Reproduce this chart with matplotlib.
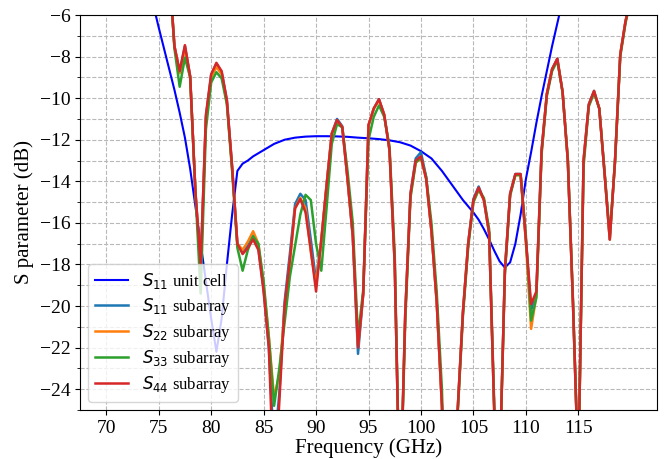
import matplotlib
matplotlib.use("Agg")
import matplotlib.pyplot as plt
from matplotlib.ticker import MultipleLocator

plt.rcParams['font.family'] = ['Liberation Serif', 'DejaVu Serif']
plt.rcParams['mathtext.fontset'] = 'dejavusans'

# unit cell S11
uc_freq = [70, 72, 74, 75, 75.5, 76, 76.5, 77, 77.5, 78, 78.5, 79, 79.5, 80, 80.5,
           81, 81.5, 82, 82.5, 83, 83.5, 84, 85, 86, 87, 88, 89, 90, 91, 92, 93,
           94, 95, 96, 97, 98, 99, 100, 101, 102, 103, 104, 105, 105.5, 106, 106.5,
           107, 107.5, 108, 108.5, 109, 109.5, 110, 110.5, 111, 111.5, 112, 112.5,
           113, 114, 115, 116, 118, 120]
uc_s11 = [-0.5, -2.0, -4.5, -6.6, -7.6, -8.6, -9.6, -10.7, -11.9, -13.4, -15.2, -17.0, -18.8, -20.6, -22.2,
          -20.6, -18.0, -15.6, -13.5, -13.15, -13.0, -12.8, -12.5, -12.2, -12.0, -11.9, -11.85, -11.83, -11.83, -11.84, -11.86,
          -11.9, -11.93, -11.97, -12.03, -12.12, -12.28, -12.55, -12.9, -13.5, -14.2, -14.9, -15.5, -15.85, -16.3, -16.8,
          -17.35, -17.85, -18.15, -17.9, -17.0, -15.6, -13.9, -12.6, -11.2, -9.9, -8.7, -7.5,
          -6.4, -4.2, -2.5, -1.5, -0.8, -0.5]

# subarray S-parameters (0.5 GHz steps)
sub_freq = [70, 75, 75.5, 76, 76.5, 77, 77.5, 78, 78.5, 79, 79.5,
            80, 80.5, 81, 81.5, 82, 82.5, 83, 83.5, 84, 84.5,
            85, 85.5, 86, 86.5, 87, 87.5, 88, 88.5, 89, 89.5,
            90, 90.5, 91, 91.5, 92, 92.5, 93, 93.5, 94, 94.5,
            95, 95.5, 96, 96.5, 97, 97.5, 98, 98.5, 99, 99.5,
            100, 100.5, 101, 101.5, 102, 102.5, 103, 103.5, 104, 104.5,
            105, 105.5, 106, 106.5, 107, 107.5, 108, 108.5, 109, 109.5,
            110, 110.5, 111, 111.5, 112, 112.5, 113, 113.5, 114, 114.5,
            115, 115.5, 116, 116.5, 117, 117.5, 118, 118.5, 119, 119.5, 120]

s44 = [-1.0, -1.8, -2.6, -3.8, -7.5, -8.7, -7.45, -8.95, -14.5, -18.0, -10.8,
       -8.85, -8.3, -8.7, -10.1, -13.3, -17.0, -17.5, -17.2, -16.8, -17.3,
       -19.3, -22.0, -29.0, -24.6, -20.0, -17.8, -15.3, -14.85, -15.5, -17.3,
       -19.3, -16.8, -14.2, -11.7, -11.05, -11.4, -13.9, -16.6, -22.0, -19.4,
       -11.3, -10.5, -10.05, -10.8, -12.5, -18.0, -30.0, -20.4, -14.6, -13.0,
       -12.8, -13.9, -16.4, -19.8, -24.8, -33.0, -32.0, -25.0, -20.3, -17.0,
       -14.9, -14.3, -14.9, -16.5, -25.3, -28.0, -18.3, -14.6, -13.65, -13.65,
       -16.8, -19.9, -19.3, -12.5, -9.8, -8.6, -8.1, -9.7, -13.0, -20.0,
       -28.0, -13.0, -10.3, -9.65, -10.5, -13.6, -16.8, -13.0, -7.9, -6.3, -5.2]

s33 = [-1.0, -1.8, -2.6, -3.8, -7.6, -9.45, -8.05, -9.0, -14.5, -19.4, -11.5,
       -9.25, -8.75, -9.05, -10.3, -13.5, -17.2, -18.3, -17.3, -16.65, -17.0,
       -18.8, -21.5, -24.8, -23.0, -20.8, -18.6, -17.1, -15.6, -14.65, -14.9,
       -17.0, -18.3, -15.3, -12.2, -11.25, -11.4, -13.5, -16.0, -21.5, -19.2,
       -12.0, -10.9, -10.35, -10.9, -12.3, -17.5, -30.0, -20.8, -14.8, -13.1,
       -12.85, -13.8, -16.0, -19.3, -24.0, -33.0, -32.0, -25.2, -20.5, -17.2,
       -15.0, -14.4, -14.8, -16.3, -25.0, -28.0, -18.5, -14.7, -13.7, -13.7,
       -16.6, -20.7, -19.6, -12.7, -9.9, -8.7, -8.2, -9.7, -12.9, -19.8,
       -28.0, -13.3, -10.4, -9.75, -10.5, -13.5, -16.6, -13.1, -8.0, -6.4, -5.2]

s22 = [-1.0, -1.8, -2.6, -3.8, -7.5, -8.8, -7.6, -9.0, -14.5, -18.3, -11.0,
       -9.0, -8.5, -8.85, -10.2, -13.4, -17.0, -17.3, -16.9, -16.4, -17.0,
       -19.0, -21.5, -24.4, -23.3, -20.2, -17.9, -15.3, -14.8, -15.3, -17.4,
       -19.0, -16.8, -14.2, -11.7, -11.1, -11.4, -13.9, -16.6, -21.9, -19.4,
       -11.3, -10.5, -10.1, -10.8, -12.5, -18.0, -30.0, -20.4, -14.7, -13.1,
       -12.9, -13.9, -16.4, -19.8, -24.8, -33.0, -32.0, -25.0, -20.3, -17.0,
       -15.0, -14.4, -14.9, -16.5, -25.3, -28.0, -18.3, -14.6, -13.7, -13.7,
       -16.9, -21.1, -19.5, -12.6, -9.8, -8.6, -8.15, -9.7, -13.0, -20.0,
       -28.0, -13.0, -10.35, -9.7, -10.5, -13.6, -16.8, -13.0, -7.9, -6.3, -5.2]

s11 = [-1.0, -1.8, -2.6, -3.8, -7.5, -8.75, -7.5, -8.95, -14.5, -18.1, -10.9,
       -8.9, -8.35, -8.75, -10.1, -13.3, -17.0, -17.4, -17.1, -16.6, -17.2,
       -19.2, -22.0, -27.0, -24.2, -19.8, -17.5, -15.1, -14.6, -14.9, -16.8,
       -18.8, -16.9, -14.2, -11.7, -11.0, -11.35, -13.9, -16.7, -22.3, -19.4,
       -11.3, -10.5, -10.05, -10.8, -12.5, -18.0, -30.0, -20.4, -14.6, -12.9,
       -12.6, -13.8, -16.4, -19.8, -24.8, -33.0, -32.0, -25.0, -20.3, -17.0,
       -14.85, -14.25, -14.9, -16.5, -25.3, -28.0, -18.3, -14.6, -13.65, -13.65,
       -16.8, -20.2, -19.4, -12.5, -9.8, -8.6, -8.1, -9.7, -13.0, -20.0,
       -28.0, -13.0, -10.3, -9.65, -10.5, -13.6, -16.8, -13.0, -7.9, -6.3, -5.2]

fig = plt.figure(figsize=(6.68, 4.59), dpi=100)
ax = fig.add_axes([0.1198, 0.1068, 0.8637, 0.8605])

ax.plot(uc_freq, uc_s11, color='blue', lw=1.5, label=r'$S_{11}$ unit cell')
ax.plot(sub_freq, s11, color='tab:blue', lw=1.8, label=r'$S_{11}$ subarray')
ax.plot(sub_freq, s22, color='tab:orange', lw=1.8, label=r'$S_{22}$ subarray')
ax.plot(sub_freq, s33, color='tab:green', lw=1.8, label=r'$S_{33}$ subarray')
ax.plot(sub_freq, s44, color='tab:red', lw=1.8, label=r'$S_{44}$ subarray')

ax.set_xlim(67.5, 122.5)
ax.set_ylim(-25, -6)
ax.set_xticks([70, 75, 80, 85, 90, 95, 100, 105, 110, 115])
ax.yaxis.set_major_locator(MultipleLocator(2))
ax.yaxis.set_minor_locator(MultipleLocator(1))
ax.grid(True, which='both', axis='y', linestyle='--', color='#b8b8b8', lw=0.8)
ax.grid(True, which='major', axis='x', linestyle='--', color='#b8b8b8', lw=0.8)
ax.tick_params(labelsize=14)

ax.set_xlabel('Frequency (GHz)', fontsize=15, labelpad=1)
ax.set_ylabel('S parameter (dB)', fontsize=15)

ax.legend(loc='lower left', fontsize=12, labelspacing=0.3)

fig.savefig('out.png', dpi=100)
